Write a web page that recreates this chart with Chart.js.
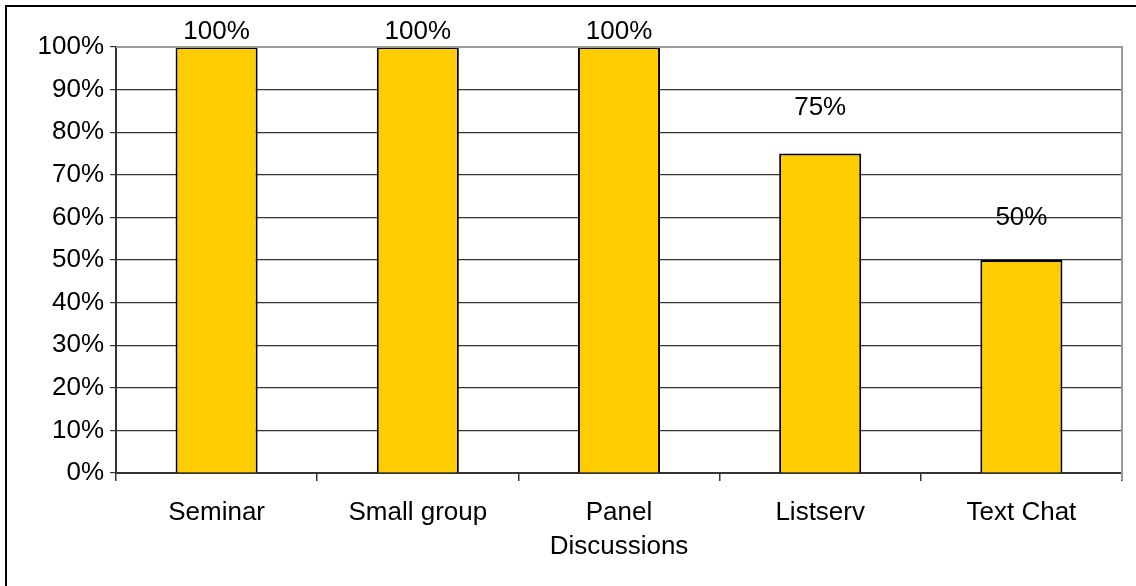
<!DOCTYPE html>
<html>
<head>
<meta charset="utf-8">
<script src="https://cdn.jsdelivr.net/npm/chart.js@4/dist/chart.umd.min.js"></script>
<style>
html,body{margin:0;padding:0;background:#fff;}
#wrap{position:relative;width:1136px;height:586px;}
</style>
</head>
<body>
<div id="wrap"><canvas id="c" width="1136" height="586"></canvas></div>
<script>
const categories = ["Seminar", "Small group", ["Panel", "Discussions"], "Listserv", "Text Chat"];
const values = [100, 100, 100, 75, 50];
const valueLabels = ["100%", "100%", "100%", "75%", "50%"];
const yTicks = [0, 10, 20, 30, 40, 50, 60, 70, 80, 90, 100];

const FONT = "'Liberation Sans', Arial, sans-serif";

const framePlugin = {
  id: 'frame',
  beforeDraw(chart) {
    const ctx = chart.ctx;
    ctx.save();
    ctx.fillStyle = '#fff';
    ctx.fillRect(0, 0, chart.width, chart.height);
    ctx.strokeStyle = '#000';
    ctx.lineWidth = 2;
    ctx.beginPath();
    ctx.moveTo(6, chart.height);
    ctx.lineTo(6, 6);
    ctx.lineTo(chart.width, 6);
    ctx.stroke();
    ctx.restore();
  },
  afterDraw(chart) {
    const a = chart.chartArea, ctx = chart.ctx;
    ctx.save();
    ctx.strokeStyle = '#999';
    ctx.lineWidth = 2;
    ctx.beginPath();
    ctx.moveTo(a.left, a.top);
    ctx.lineTo(a.right, a.top);
    ctx.lineTo(a.right, a.bottom + 7);
    ctx.stroke();
    ctx.restore();
  }
};

const barLabelPlugin = {
  id: 'barLabels',
  afterDatasetsDraw(chart, args, opts) {
    const ctx = chart.ctx;
    const meta = chart.getDatasetMeta(0);
    ctx.save();
    ctx.font = opts.font;
    ctx.fillStyle = '#000';
    ctx.textAlign = 'center';
    ctx.textBaseline = 'middle';
    meta.data.forEach((bar, i) => {
      ctx.fillText(valueLabels[i], bar.x, bar.y - opts.offsets[i]);
    });
    ctx.restore();
  }
};

new Chart(document.getElementById('c'), {
  type: 'bar',
  data: {
    labels: categories,
    datasets: [{
      data: values,
      backgroundColor: '#FFCC00',
      borderColor: '#000',
      borderWidth: 2,
      barPercentage: 0.408,
      categoryPercentage: 1.0
    }]
  },
  options: {
    responsive: false,
    animation: false,
    events: [],
    layout: { padding: { left: 0, right: 14, top: 47, bottom: 0 } },
    plugins: {
      legend: { display: false },
      tooltip: { enabled: false },
      barLabels: { font: '26px ' + FONT, offsets: [15, 15, 15, 46, 42] }
    },
    scales: {
      x: {
        offset: true,
        grid: { drawOnChartArea: false, offset: true, tickLength: 8, color: '#333', lineWidth: 1.5 },
        border: { color: '#333', width: 2 },
        ticks: { color: '#000', font: { family: FONT, size: 26, lineHeight: 1.3 }, padding: 15, maxRotation: 0, autoSkip: false },
        afterFit(s) { s.height = 113; }
      },
      y: {
        min: 0, max: 100,
        afterBuildTicks(s) { s.ticks = yTicks.map(v => ({ value: v })); },
        grid: { color: '#333', lineWidth: 1.2, tickLength: 6 },
        border: { color: '#333', width: 2 },
        ticks: { color: '#000', font: { family: FONT, size: 26 }, padding: 6, callback: v => v + '%' },
        afterFit(s) { s.width = 116; }
      }
    }
  },
  plugins: [framePlugin, barLabelPlugin]
});
</script>
</body>
</html>
